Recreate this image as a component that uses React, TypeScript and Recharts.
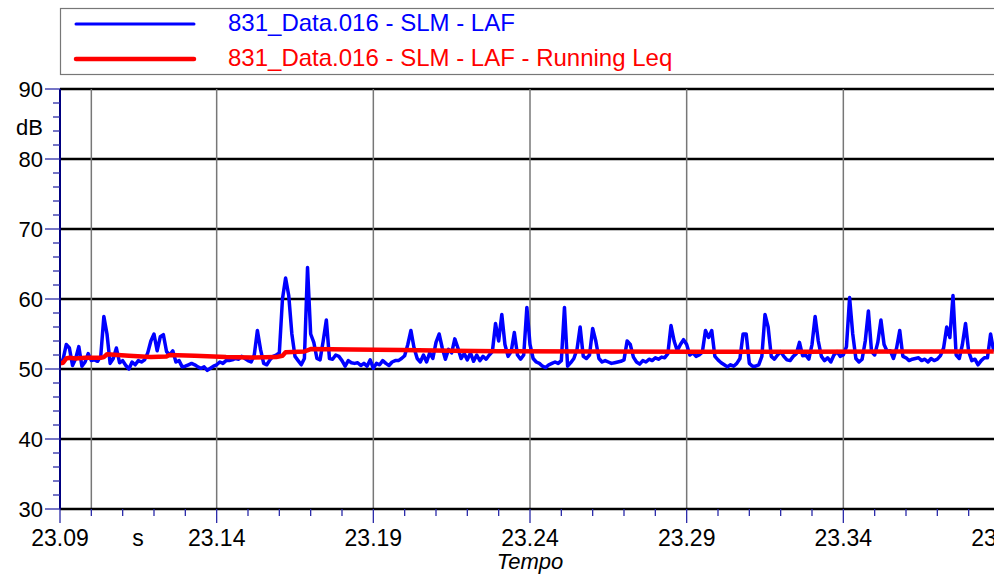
import { CartesianGrid, Line, LineChart, XAxis, YAxis } from "recharts";

// LAF level, one sample per ms starting at 23.090 s
const T0 = 23.09;
const DT = 0.001;
const laf = [
  51.0, 51.4, 53.5, 53.0, 50.5, 51.5, 53.2, 50.4, 51.0, 52.2,
  51.2, 51.3, 51.1, 51.8, 57.5, 55.0, 50.8, 51.5, 53.0, 50.9,
  51.2, 50.5, 50.0, 51.0, 50.6, 51.2, 51.0, 51.3, 52.3, 54.0,
  55.0, 52.6, 54.6, 54.9, 52.5, 52.0, 52.6, 51.0, 51.2, 50.3,
  50.4, 50.6, 50.8, 50.6, 50.3, 50.1, 50.3, 49.8, 50.1, 50.4,
  50.6, 51.0, 50.8, 51.2, 51.2, 51.3, 51.5, 51.4, 51.8, 51.5,
  51.2, 51.0, 52.0, 55.5, 52.8, 50.8, 50.6, 51.3, 51.8, 52.0,
  52.3, 60.0, 63.0, 60.5, 55.0, 51.8, 51.2, 50.6, 51.5, 64.5,
  55.0, 53.8, 51.5, 51.3, 54.0, 57.0, 51.5, 51.4, 52.0, 51.8,
  51.2, 50.4, 51.2, 50.9, 50.8, 50.9, 50.5, 50.8, 50.4, 51.3,
  50.1, 50.8, 50.6, 51.2, 50.8, 50.5, 51.0, 51.2, 51.2, 51.5,
  51.9, 53.5, 55.5, 53.0, 51.5, 51.0, 52.0, 51.0, 52.3, 51.5,
  53.8, 55.0, 53.0, 51.4, 52.8, 52.3, 54.3, 53.0, 51.5, 52.2,
  51.3, 52.3, 51.1, 52.0, 51.2, 51.8, 51.4, 52.0, 52.5, 56.5,
  54.0, 57.8, 53.5, 51.8, 52.5, 55.2, 52.0, 51.4, 52.0, 58.8,
  53.5, 51.5, 51.0, 50.8, 50.4, 50.2, 50.6, 50.8, 51.0, 50.8,
  51.2, 58.8, 50.4, 50.9, 51.5, 52.8, 56.0, 51.8, 51.5, 52.0,
  55.8, 54.0, 51.5, 51.0, 51.2, 51.0, 50.8, 50.9, 51.0, 51.1,
  51.3, 54.0, 53.5, 51.7, 51.0, 50.7, 51.2, 51.0, 51.4, 51.2,
  51.6, 51.4, 51.7, 51.6, 52.2, 56.2, 54.0, 52.6, 53.5, 54.2,
  53.5, 52.0, 52.3, 51.8, 52.0, 52.4, 55.5, 54.5, 55.5, 51.8,
  51.3, 50.9, 50.6, 50.3, 50.6, 50.4, 50.8, 51.5, 55.0, 55.0,
  50.8, 50.4, 50.4, 50.6, 51.8, 57.8, 56.0, 51.8, 51.4, 52.0,
  52.5, 51.8, 51.3, 51.2, 51.8, 52.2, 53.8, 51.9, 52.0, 51.4,
  53.5, 57.5, 54.0, 51.8, 51.2, 51.6, 51.0, 52.0, 52.5, 51.8,
  52.0, 53.2, 60.2, 55.0, 51.5, 51.0, 51.4, 54.0, 58.3, 52.5,
  52.0, 53.8, 57.0, 53.5, 52.5, 52.6, 51.5, 53.0, 55.5, 51.8,
  51.6, 51.2, 51.4, 51.5, 51.6, 51.2, 51.4, 51.0, 51.5, 51.2,
  51.4, 51.9, 53.0, 56.0, 54.5, 60.5, 52.0, 51.5, 53.5, 56.5,
  52.5, 51.2, 51.4, 50.6, 51.2, 51.6, 51.6, 55.0, 52.5,
];

// running Leq
const leqTimes = [
  23.09, 23.091, 23.092, 23.093, 23.095, 23.098, 23.103, 23.104, 23.105, 23.112,
  23.119, 23.124, 23.125, 23.133, 23.143, 23.151, 23.159, 23.161, 23.162, 23.168,
  23.17, 23.183, 23.199, 23.215, 23.23, 23.262, 23.294, 23.326, 23.358, 23.388,
];
const leqValues = [
  50.8, 50.9, 51.5, 51.6, 51.5, 51.6, 51.6, 51.7, 52.1, 51.9,
  51.7, 51.8, 52.0, 51.9, 51.7, 51.65, 51.7, 51.9, 52.4, 52.5,
  52.85, 52.8, 52.7, 52.6, 52.55, 52.5, 52.45, 52.45, 52.5, 52.5,
];

const xTicks = [
  23.09, 23.1, 23.11, 23.12, 23.13, 23.14, 23.15, 23.16, 23.17, 23.18,
  23.19, 23.2, 23.21, 23.22, 23.23, 23.24, 23.25, 23.26, 23.27, 23.28,
  23.29, 23.3, 23.31, 23.32, 23.33, 23.34, 23.35, 23.36, 23.37, 23.38, 23.39,
];
const xLabels = ["23.09", "23.14", "23.19", "23.24", "23.29", "23.34", "23.39"];
const xGrid = [23.1, 23.14, 23.19, 23.24, 23.29, 23.34, 23.39];
const yTicks = [30, 32, 34, 36, 38, 40, 42, 44, 46, 48, 50, 52, 54, 56, 58, 60, 62, 64, 66, 68, 70, 72, 74, 76, 78, 80, 82, 84, 86, 88, 90];
const yGrid = [40, 50, 60, 70, 80, 90];

const lafName = "831_Data.016 - SLM - LAF";
const leqName = "831_Data.016 - SLM - LAF - Running Leq";

const FONT = "'Liberation Sans', Arial, sans-serif";
const TICK_BLUE = "#2a2aa8";

const lafData = laf.map((v, i) => ({ t: T0 + i * DT, laf: v }));
const leqData = leqTimes.map((t, i) => ({ t, leq: leqValues[i] }));

function XTick(props: any) {
  const { x, y, payload } = props;
  const label = Number(payload.value).toFixed(2);
  const major = xLabels.includes(label);
  return (
    <g>
      <line x1={x} x2={x} y1={y} y2={y + (major ? 14 : 7)} stroke={TICK_BLUE} strokeWidth={1.3} />
      {major && (
        <text x={x} y={y + 29} textAnchor="middle" dominantBaseline="central" fontSize={23} fontFamily={FONT} fill="#000">
          {label}
        </text>
      )}
    </g>
  );
}

function YTick(props: any) {
  const { x, y, payload } = props;
  const major = payload.value % 10 === 0;
  return (
    <g>
      <line x1={x - (major ? 15 : 7)} x2={x} y1={y} y2={y} stroke={TICK_BLUE} strokeWidth={1.3} />
      {major && (
        <text x={x - 17} y={y} textAnchor="end" dominantBaseline="central" fontSize={22} fontFamily={FONT} fill="#000">
          {payload.value}
        </text>
      )}
    </g>
  );
}

export default function App() {
  return (
    <div style={{ position: "absolute", left: 0, top: 0, width: 994, height: 576, overflow: "hidden", background: "#fff" }}>
      <LineChart width={1060} height={576} margin={{ top: 89, right: 60, bottom: 0, left: 0 }}>
        <CartesianGrid horizontal={true} vertical={false} horizontalValues={yGrid} stroke="#000" strokeWidth={2.5} />
        <CartesianGrid horizontal={false} vertical={true} verticalValues={xGrid} stroke="#777" strokeWidth={1.5} />
        <XAxis
          type="number"
          dataKey="t"
          domain={[23.09, 23.39]}
          ticks={xTicks}
          allowDataOverflow
          height={67}
          tickSize={0}
          tickMargin={0}
          tickLine={false}
          interval={0}
          axisLine={{ stroke: "#000", strokeWidth: 2.5 }}
          tick={<XTick />}
          label={{
            content: (p: any) => {
              const vb = p.viewBox;
              return (
                <g fontFamily={FONT} fill="#000">
                  <text x={vb.x + 78} y={vb.y + 29} textAnchor="middle" dominantBaseline="central" fontSize={23}>s</text>
                  <text x={vb.x + vb.width / 2} y={vb.y + 52} textAnchor="middle" dominantBaseline="central" fontSize={22} fontStyle="italic">Tempo</text>
                </g>
              );
            },
          }}
        />
        <YAxis
          type="number"
          domain={[30, 90]}
          ticks={yTicks}
          width={60}
          interval={0}
          tickSize={0}
          tickMargin={0}
          tickLine={false}
          axisLine={{ stroke: "#000080", strokeWidth: 2 }}
          tick={<YTick />}
          label={{
            content: (p: any) => {
              const vb = p.viewBox;
              return (
                <text x={vb.x + 43} y={vb.y + 38} textAnchor="end" dominantBaseline="central" fontSize={22} fontFamily={FONT} fill="#000">dB</text>
              );
            },
          }}
        />
        <Line data={lafData} dataKey="laf" type="linear" stroke="#0000ff" strokeWidth={3.5} dot={false} isAnimationActive={false} strokeLinejoin="round" />
        <Line data={leqData} dataKey="leq" type="linear" stroke="#ff0000" strokeWidth={4.5} dot={false} isAnimationActive={false} strokeLinejoin="round" />
      </LineChart>
      <svg width={994} height={80} style={{ position: "absolute", left: 0, top: 0 }}>
        <rect x={60.5} y={8.5} width={1000} height={66} fill="#fff" stroke="#777" strokeWidth={1.2} />
        <line x1={76} x2={194} y1={24} y2={24} stroke="#0000ff" strokeWidth={3} strokeLinecap="round" />
        <line x1={76} x2={194} y1={59} y2={59} stroke="#ff0000" strokeWidth={4.5} strokeLinecap="round" />
        <text x={228} y={22} dominantBaseline="central" fontSize={24} fontFamily={FONT} fill="#0000ff">{lafName}</text>
        <text x={228} y={57} dominantBaseline="central" fontSize={24} fontFamily={FONT} fill="#ff0000">{leqName}</text>
      </svg>
    </div>
  );
}
